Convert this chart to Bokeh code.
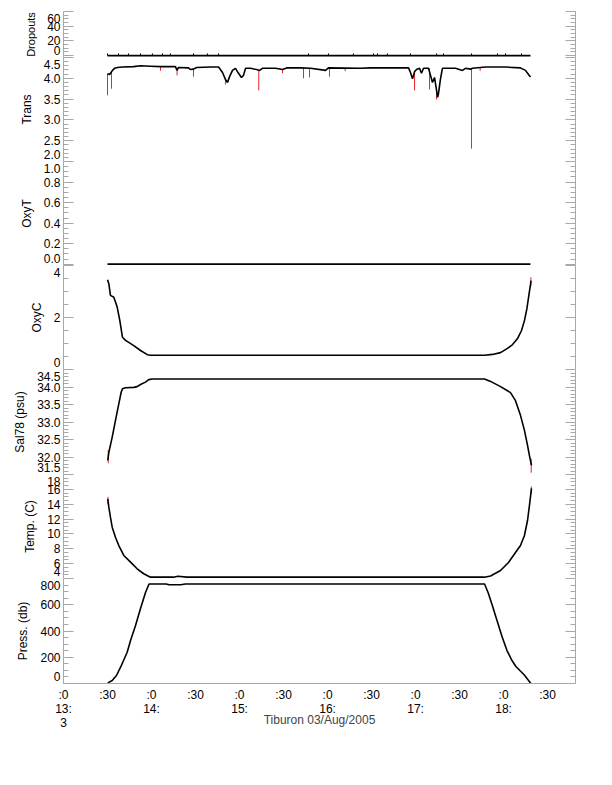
import numpy as np
from bokeh.plotting import figure
from bokeh.models import Range1d, LinearAxis, FixedTicker
from bokeh.layouts import column
from bokeh.embed import file_html
from bokeh.resources import INLINE

# ---------------- data (time = minutes after 13:00, 03 Aug 2005) ----------------
x_ticks = [0, 30, 60, 90, 120, 150, 180, 210, 240, 270, 300, 330]
x_tick_labels = [":0\n13:\n3", ":30", ":0\n14:", ":30", ":0\n15:", ":30",
                 ":0\n16:", ":30", ":0\n17:", ":30", ":0\n18:", ":30"]
x_title = "Tiburon 03/Aug/2005"

# Dropouts
drop_t = [30.0, 318.3]
drop_v = [0, 0]
drop_tick_t = [30.0, 37.5, 44.3, 52.5, 60.6, 67.5, 72.9, 88.6, 98.1, 105.7, 167.0, 180.6,
               197.6, 211.3, 214.0, 220.8, 236.5, 254.3, 259.0, 278.1, 295.8, 301.3, 312.2]
drop_tick_n = [3] * len(drop_tick_t)

# Trans
trans_t = [30.0, 31.4, 32.4, 33.4, 34.8, 36.8, 40.2, 47.7, 52.5, 59.3, 66.1, 76.3, 77.4, 78.4,
           85.2, 86.6, 88.6, 90.7, 100.2, 105.7, 108.4, 110.4, 111.8, 113.2, 115.2, 117.2,
           119.3, 121.3, 122.7, 124.1, 127.5, 131.6, 133.6, 135.6, 144.5, 149.3, 152.0, 161.5,
           168.4, 178.6, 180.6, 202.4, 209.3, 235.2, 236.5, 237.9, 239.3, 240.6, 242.7, 244.0,
           245.4, 248.8, 250.2, 251.5, 252.9, 254.3, 255.0, 255.6, 257.0, 258.3, 267.2, 272.0,
           274.0, 277.4, 278.8, 287.7, 301.3, 311.5, 314.9, 317.0, 318.3]
trans_v = [4.11, 4.09, 4.14, 4.19, 4.24, 4.26, 4.27, 4.28, 4.30, 4.29, 4.28, 4.28, 4.19, 4.26,
           4.25, 4.21, 4.22, 4.26, 4.27, 4.27, 4.14, 3.97, 3.90, 4.04, 4.19, 4.24,
           4.12, 4.02, 4.07, 4.24, 4.24, 4.21, 4.19, 4.24, 4.24, 4.21, 4.25, 4.25,
           4.24, 4.19, 4.25, 4.24, 4.25, 4.25, 4.14, 3.99, 4.16, 4.21, 4.24, 4.12,
           4.24, 4.24, 4.07, 3.90, 4.02, 3.71, 3.54, 3.63, 3.99, 4.24, 4.24, 4.19,
           4.24, 4.22, 4.24, 4.27, 4.27, 4.25, 4.19, 4.09, 4.03]
trans_spike_t = [30.0, 32.7, 66.1, 77.4, 88.6, 110.4, 133.1, 149.3, 163.6, 167.7, 181.3,
                 192.0, 239.3, 249.5, 254.3, 278.1, 284.0]
trans_spike_base = [4.11, 4.16, 4.28, 4.19, 4.22, 3.97, 4.19, 4.21, 4.25, 4.24, 4.25,
                    4.24, 4.16, 4.24, 3.71, 4.24, 4.25]
trans_spike_tip = [3.59, 3.75, 4.18, 4.07, 4.04, 3.85, 3.71, 4.12, 4.00, 4.02, 4.04,
                   4.17, 3.71, 3.73, 3.49, 2.31, 4.18]

# OxyT
oxyt_t = [30.0, 318.3]
oxyt_v = [0.0, 0.0]

# OxyC
oxyc_t = [30.0, 30.9, 32.0, 34.3, 36.6, 38.4, 40.2, 42.3, 47.9, 52.5, 57.1, 59.3, 287.0,
          292.4, 297.9, 302.6, 306.1, 309.5, 312.2, 314.2, 315.9, 317.0, 318.0, 318.7]
oxyc_v = [3.45, 3.30, 2.85, 2.78, 2.40, 1.88, 1.24, 1.12, 0.92, 0.73, 0.57, 0.55, 0.55,
          0.58, 0.65, 0.81, 0.96, 1.19, 1.50, 1.88, 2.35, 2.77, 3.15, 3.42]
oxyc_spike_t = [318.6]
oxyc_spike_base = [3.2]
oxyc_spike_tip = [3.55]

# Sal78
sal_t = [30.2, 30.9, 33.2, 35.4, 37.7, 39.3, 40.2, 42.3, 47.9, 50.2, 52.5, 55.9, 58.1, 60.5,
         287.0, 291.1, 297.9, 304.7, 308.1, 311.5, 314.2, 316.3, 317.6, 319.0]
sal_v = [31.90, 32.13, 32.57, 33.04, 33.52, 33.85, 33.95, 33.98, 33.99, 34.01, 34.07, 34.14,
         34.21, 34.23, 34.23, 34.16, 34.01, 33.84, 33.61, 33.19, 32.76, 32.33, 32.04, 31.76]
sal_spike_t = [30.5, 318.8]
sal_spike_base = [32.2, 31.95]
sal_spike_tip = [31.82, 31.55]

# Temp
temp_t = [30.2, 30.9, 32.0, 33.2, 35.4, 37.7, 41.1, 45.7, 50.2, 54.7, 59.3, 75.0, 78.0, 84.0,
          287.0, 291.1, 297.9, 303.3, 308.1, 311.5, 314.2, 316.3, 317.6, 319.0]
temp_v = [14.73, 13.60, 12.25, 10.91, 9.56, 8.44, 7.10, 6.20, 5.31, 4.64, 4.18, 4.18, 4.30, 4.18,
          4.18, 4.34, 5.08, 6.16, 7.50, 8.44, 9.79, 11.81, 13.83, 16.12]
temp_spike_t = [30.3, 318.9]
temp_spike_base = [14.0, 15.4]
temp_spike_tip = [15.0, 16.4]

# Press
press_t = [30.2, 33.2, 36.1, 38.9, 43.4, 45.7, 49.1, 52.5, 55.9, 58.3, 70.0, 72.0, 80.0, 83.0,
           287.0, 289.4, 292.1, 295.5, 298.9, 302.3, 305.7, 308.4, 311.1, 313.8, 316.5, 318.6]
press_v = [5, 23, 61, 124, 238, 328, 442, 571, 693, 758, 758, 752, 752, 758,
           758, 693, 602, 480, 358, 251, 175, 130, 99, 69, 30, 0]

# ---------------- styling ----------------
FONT = "Liberation Sans"
GREY = "#a8a8a8"
RED = "#e8262b"
PAD = 7  # px: edge labels are pulled inside the panel

xr = Range1d(0, 349)


def panel(ylabel, yr, majors, labels, minor_step, frame_h, top=0, bottom=0, last=False,
          label_size="12px"):
    p = figure(width=604, height=frame_h + top + bottom, x_range=xr, y_range=Range1d(*yr),
               output_backend="svg", toolbar_location=None,
               x_axis_location="below" if last else None,
               min_border_left=63, min_border_right=29,
               min_border_top=top, min_border_bottom=bottom,
               outline_line_color=None, background_fill_color="white",
               border_fill_color="white")
    p.grid.visible = False
    lo, hi = majors[0], majors[-1]
    n = int(round((hi - lo) / minor_step))
    minors = [round(lo + i * minor_step, 6) for i in range(n + 1)]
    minors = [m for m in minors if all(abs(m - M) > 1e-9 for M in majors)]

    def tick_axis(ax):
        ax.ticker = FixedTicker(ticks=majors, minor_ticks=minors)
        ax.axis_line_color = GREY
        ax.major_tick_line_color = GREY
        ax.minor_tick_line_color = GREY
        ax.major_tick_in = 10
        ax.major_tick_out = 0
        ax.minor_tick_in = 5
        ax.minor_tick_out = 0
        ax.major_label_text_font_size = "0px"
        ax.major_label_text_color = None
        ax.major_label_standoff = 0

    tick_axis(p.yaxis[0])
    rax = LinearAxis()
    tick_axis(rax)
    p.add_layout(rax, "right")

    ppu = frame_h / (yr[1] - yr[0])
    pos = [min(max(v, yr[0] + PAD / ppu), yr[1] - PAD / ppu) for v in majors]
    lax = LinearAxis(ticker=FixedTicker(ticks=pos, minor_ticks=[]),
                     major_label_overrides={q: t for q, t in zip(pos, labels)},
                     axis_line_color=None, major_tick_line_color=None,
                     minor_tick_line_color=None, major_tick_in=0, major_tick_out=0,
                     minor_tick_in=0, minor_tick_out=0, major_label_standoff=3,
                     major_label_text_font=FONT, major_label_text_font_size="12px",
                     major_label_text_color="black",
                     axis_label=ylabel, axis_label_text_font=FONT,
                     axis_label_text_font_size=label_size, axis_label_text_font_style="normal",
                     axis_label_text_color="black", axis_label_standoff=7)
    p.add_layout(lax, "left")

    if last:
        ax = p.xaxis[0]
        ax.ticker = FixedTicker(ticks=x_ticks, minor_ticks=[])
        ax.major_label_overrides = dict(zip(x_ticks, x_tick_labels))
        ax.axis_line_color = GREY
        ax.major_tick_line_color = None
        ax.minor_tick_line_color = None
        ax.major_tick_in = 0
        ax.major_tick_out = 0
        ax.minor_tick_in = 0
        ax.minor_tick_out = 0
        ax.major_label_standoff = 4
        ax.major_label_text_font = FONT
        ax.major_label_text_font_size = "12px"
        ax.major_label_text_line_height = 1.0
        ax.major_label_text_color = "black"
        ax.axis_label = x_title
        ax.axis_label_text_font = FONT
        ax.axis_label_text_font_size = "12px"
        ax.axis_label_text_font_style = "normal"
        ax.axis_label_standoff = -20
    return p


LW = 1.6

p1 = panel("Dropouts", (-2.5, 60), [0, 20, 40, 60], ["0", "20", "40", "60"], 5, 46, top=11,
           label_size="11px")
p1.segment(x0=drop_tick_t, y0=[0] * len(drop_tick_t), x1=drop_tick_t, y1=drop_tick_n,
           line_color="black", line_width=1)
p1.line(drop_t, drop_v, line_color="black", line_width=LW)

p2 = panel("Trans", (2.0, 4.5), [2.0, 2.5, 3.0, 3.5, 4.0, 4.5],
           ["2.0", "2.5", "3.0", "3.5", "4.0", "4.5"], 0.1, 104)
p2.segment(x0=trans_spike_t, y0=trans_spike_base, x1=trans_spike_t, y1=trans_spike_tip,
           line_color=RED, line_width=1)
p2.line(trans_t, trans_v, line_color="black", line_width=LW)

p3 = panel("OxyT", (-0.012, 1.0), [0.0, 0.2, 0.4, 0.6, 0.8, 1.0],
           ["0.0", "0.2", "0.4", "0.6", "0.8", "1.0"], 0.05, 104)
p3.line(oxyt_t, oxyt_v, line_color="black", line_width=LW + 0.4)

p4 = panel("OxyC", (0, 4), [0, 2, 4], ["0", "2", "4"], 0.5, 104)
p4.segment(x0=oxyc_spike_t, y0=oxyc_spike_base, x1=oxyc_spike_t, y1=oxyc_spike_tip,
           line_color=RED, line_width=1)
p4.line(oxyc_t, oxyc_v, line_color="black", line_width=LW)

p5 = panel("Sal78 (psu)", (31.5, 34.5), [31.5, 32.0, 32.5, 33.0, 33.5, 34.0, 34.5],
           ["31.5", "32.0", "32.5", "33.0", "33.5", "34.0", "34.5"], 0.1, 105)
p5.segment(x0=sal_spike_t, y0=sal_spike_base, x1=sal_spike_t, y1=sal_spike_tip,
           line_color=RED, line_width=1)
p5.line(sal_t, sal_v, line_color="black", line_width=LW)

p6 = panel("Temp. (C)", (4, 18), [4, 6, 8, 10, 12, 14, 16, 18],
           ["4", "6", "8", "10", "12", "14", "16", "18"], 0.5, 104)
p6.segment(x0=temp_spike_t, y0=temp_spike_base, x1=temp_spike_t, y1=temp_spike_tip,
           line_color=RED, line_width=1)
p6.line(temp_t, temp_v, line_color="black", line_width=LW)

p7 = panel("Press. (db)", (0, 800), [0, 200, 400, 600, 800],
           ["0", "200", "400", "600", "800"], 50, 105, bottom=60, last=True)
p7.line(press_t, press_v, line_color="black", line_width=LW)

layout = column(p1, p2, p3, p4, p5, p6, p7, spacing=0)
open("out.html", "w").write(file_html(layout, INLINE))
